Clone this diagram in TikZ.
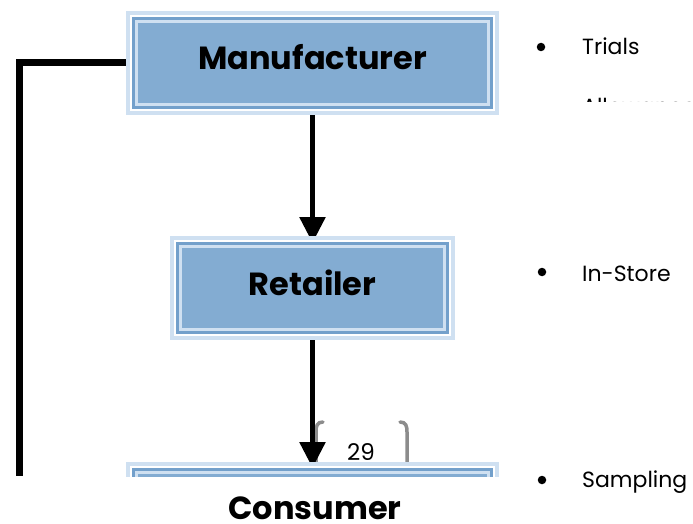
\documentclass[tikz,border=0pt]{standalone}
\usepackage{fontspec}
\setmainfont{Poppins}
\usetikzlibrary{arrows.meta,backgrounds}
\definecolor{bfill}{HTML}{83ACD2}
\definecolor{bmid}{HTML}{73A0CB}
\definecolor{blight}{HTML}{CFE0F1}
\definecolor{bracketgray}{HTML}{8C8C8C}
\tikzset{
  fancybox/.style={rectangle, inner sep=0pt, outer sep=0pt,
    preaction={draw=blight, line width=21pt},
    preaction={draw=white, line width=13pt},
    preaction={draw=bmid, line width=9pt},
    fill=bfill, draw=blight, line width=3pt,
    font=\fontsize{32}{36}\bfseries\selectfont,
    text height=24pt, text depth=10pt},
  flowarrow/.style={line width=5.5pt, -{Triangle[length=26pt,width=25pt]}},
  bullettext/.style={anchor=base west, inner sep=0pt, font=\fontsize{22}{24}\selectfont},
  bulletdot/.style={circle, fill=black, inner sep=0pt, minimum size=8.5pt},
  bracket/.style={draw=bracketgray, line width=3.5pt, line cap=round},
}
\begin{document}
\begin{tikzpicture}[x=1pt,y=-1pt]
\useasboundingbox (0,0) rectangle (693,524);
% boxes
\node[fancybox, minimum width=352pt, minimum height=83pt] (m) at (312.5,63) {Manufacturer};
\node[fancybox, minimum width=264pt, minimum height=83pt] (r) at (312.5,288) {Retailer};
\begin{scope}
  \clip (0,0) rectangle (693,476);
  \node[fancybox, minimum width=352pt, minimum height=83pt] (c) at (312.5,514) {};
\end{scope}
\node[inner sep=0pt, anchor=base, font=\fontsize{32}{36}\bfseries\selectfont] (ct) at (315,519) {Consumer};
\node[inner sep=0pt, anchor=base, font=\fontsize{23}{25}\selectfont] (pg) at (361,460) {29};
% connectors behind the boxes
\begin{pgfonlayer}{background}
\draw[bracket] (400,422) .. controls (406,422) and (407,426) .. (407,432) -- (407,463);
\draw[bracket] (323,422) .. controls (317,422) and (316,426) .. (316,432) -- (316,463);
\coordinate (lc) at (19,476);
\draw[line width=7pt, line join=miter] (m.west) -| (lc);
\draw[flowarrow, shorten >=3.5pt] (m.south) -- (r.north);
\draw[flowarrow, shorten >=4.5pt] (r.south) -- (c.north);
\end{pgfonlayer}
% bullets
\node[bulletdot] (b1) at (541,47) {};
\node[bullettext] (t1) at (582,55) {Trials};
\begin{scope}
  \clip (560,85) rectangle (693,102);
  \node[bullettext] (t1b) at (582,114) {Allowance};
\end{scope}
\node[bulletdot] (b2) at (542,272) {};
\node[bullettext] (t2) at (582,281) {In-Store};
\node[bulletdot] (b3) at (542,480) {};
\node[bullettext] (t3) at (582,487) {Sampling};
\end{tikzpicture}
\end{document}
